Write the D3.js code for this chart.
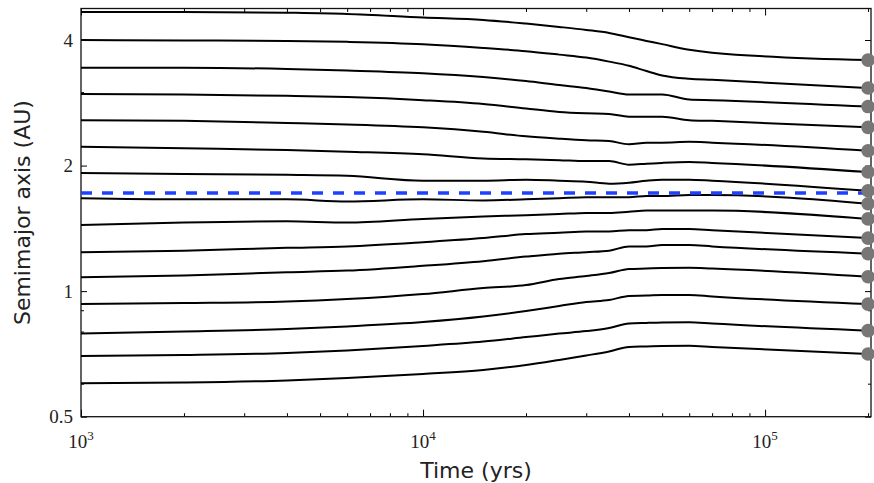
<!DOCTYPE html>
<html>
<head>
<meta charset="utf-8">
<script src="https://cdn.jsdelivr.net/npm/d3@7"></script>
<style>
  body { margin: 0; background: #fff; }
</style>
</head>
<body>
<svg id="chart" width="874" height="483"></svg>
<script>
// sample times (yrs), shared by every orbit
var times = [1000, 2000, 4000, 6000, 10000, 15000, 20000, 25000, 30000, 35000, 40000, 45000, 50000, 60000, 70000, 200000];

// semimajor axis (AU) of each body, outermost first
var a01 = [4.67, 4.67, 4.65, 4.62, 4.53, 4.47, 4.38, 4.30, 4.23, 4.16, 4.06, 3.98, 3.91, 3.79, 3.73, 3.58];
var a02 = [4.00, 3.99, 3.98, 3.96, 3.91, 3.83, 3.76, 3.69, 3.63, 3.55, 3.47, 3.37, 3.29, 3.23, 3.21, 3.07];
var a03 = [3.43, 3.43, 3.41, 3.38, 3.33, 3.26, 3.19, 3.12, 3.07, 3.01, 2.96, 2.96, 2.96, 2.88, 2.87, 2.77];
var a04 = [2.97, 2.96, 2.94, 2.92, 2.87, 2.81, 2.74, 2.69, 2.67, 2.66, 2.62, 2.62, 2.62, 2.57, 2.56, 2.47];
var a05 = [2.57, 2.56, 2.53, 2.51, 2.47, 2.41, 2.35, 2.32, 2.30, 2.29, 2.25, 2.27, 2.27, 2.28, 2.27, 2.17];
var a06 = [2.22, 2.20, 2.18, 2.16, 2.13, 2.08, 2.07, 2.06, 2.05, 2.05, 2.01, 2.02, 2.03, 2.04, 2.03, 1.93];
var a07 = [1.92, 1.91, 1.90, 1.89, 1.84, 1.84, 1.85, 1.84, 1.83, 1.81, 1.82, 1.84, 1.85, 1.85, 1.84, 1.74];
var a08 = [1.67, 1.66, 1.66, 1.64, 1.66, 1.65, 1.66, 1.67, 1.68, 1.68, 1.68, 1.69, 1.69, 1.70, 1.70, 1.62];
var a09 = [1.44, 1.46, 1.47, 1.46, 1.49, 1.51, 1.52, 1.53, 1.54, 1.54, 1.55, 1.56, 1.56, 1.56, 1.56, 1.49];
var a10 = [1.24, 1.25, 1.27, 1.28, 1.31, 1.34, 1.37, 1.38, 1.39, 1.39, 1.40, 1.40, 1.41, 1.41, 1.40, 1.34];
var a11 = [1.08, 1.09, 1.11, 1.12, 1.15, 1.18, 1.21, 1.23, 1.24, 1.25, 1.28, 1.28, 1.29, 1.29, 1.28, 1.23];
var a12 = [0.931, 0.936, 0.944, 0.957, 0.984, 1.017, 1.034, 1.069, 1.087, 1.105, 1.130, 1.133, 1.136, 1.138, 1.133, 1.083];
var a13 = [0.792, 0.800, 0.811, 0.823, 0.843, 0.869, 0.896, 0.921, 0.942, 0.952, 0.974, 0.976, 0.979, 0.979, 0.971, 0.931];
var a14 = [0.699, 0.703, 0.711, 0.721, 0.739, 0.757, 0.776, 0.791, 0.802, 0.816, 0.836, 0.839, 0.841, 0.842, 0.836, 0.804];
var a15 = [0.601, 0.604, 0.611, 0.619, 0.633, 0.647, 0.665, 0.684, 0.701, 0.717, 0.735, 0.737, 0.739, 0.740, 0.735, 0.707];

// dashed reference line (AU)
var refLine = 1.72;

// ticks
var xMajor = [1e3, 1e4, 1e5];
var xExponents = ["3", "4", "5"];
var xMinor = [2e3, 3e3, 4e3, 5e3, 6e3, 7e3, 8e3, 9e3, 2e4, 3e4, 4e4, 5e4, 6e4, 7e4, 8e4, 9e4, 2e5];
var yMajor = [0.5, 1, 2, 4];
var yLabels = ["0.5", "1", "2", "4"];
var yMinor = [0.6, 0.7, 0.8, 0.9, 3];

var orbits = [a01, a02, a03, a04, a05, a06, a07, a08, a09, a10, a11, a12, a13, a14, a15];

var svg = d3.select("#chart");
var plotLeft = 81, plotRight = 871, plotTop = 8.5, plotBottom = 416.7;

var x = d3.scaleLog().domain([1e3, 2.04e5]).range([plotLeft, plotRight]);
var y = d3.scaleLog().domain([0.5, 4.76]).range([plotBottom, plotTop]);

function noDomain(g) { g.select(".domain").remove(); }

// ticks point inward on all four sides
svg.append("g").attr("transform", "translate(0," + plotBottom + ")")
	.call(d3.axisBottom(x).tickValues(xMajor).tickSize(-7).tickFormat("")).call(noDomain);
svg.append("g").attr("transform", "translate(0," + plotBottom + ")")
	.call(d3.axisBottom(x).tickValues(xMinor).tickSize(-3.5).tickFormat("")).call(noDomain);
svg.append("g").attr("transform", "translate(0," + plotTop + ")")
	.call(d3.axisTop(x).tickValues(xMajor).tickSize(-7).tickFormat("")).call(noDomain);
svg.append("g").attr("transform", "translate(0," + plotTop + ")")
	.call(d3.axisTop(x).tickValues(xMinor).tickSize(-3.5).tickFormat("")).call(noDomain);
svg.append("g").attr("transform", "translate(" + plotLeft + ",0)")
	.call(d3.axisLeft(y).tickValues(yMajor).tickSize(-6).tickFormat("")).call(noDomain);
svg.append("g").attr("transform", "translate(" + plotLeft + ",0)")
	.call(d3.axisLeft(y).tickValues(yMinor).tickSize(-3).tickFormat("")).call(noDomain);
svg.append("g").attr("transform", "translate(" + plotRight + ",0)")
	.call(d3.axisRight(y).tickValues(yMajor).tickSize(-6).tickFormat("")).call(noDomain);
svg.append("g").attr("transform", "translate(" + plotRight + ",0)")
	.call(d3.axisRight(y).tickValues(yMinor).tickSize(-3).tickFormat("")).call(noDomain);

svg.selectAll(".tick line").attr("stroke", "#000").attr("stroke-width", 1);

// frame
svg.append("rect")
	.attr("x", plotLeft).attr("y", plotTop)
	.attr("width", plotRight - plotLeft).attr("height", plotBottom - plotTop)
	.attr("fill", "none").attr("stroke", "#111").attr("stroke-width", 1.3);

// orbit tracks
var line = d3.line()
	.x(function (d, i) { return x(times[i]); })
	.y(function (d) { return y(d); })
	.curve(d3.curveMonotoneX);

svg.append("g").selectAll("path")
	.data(orbits)
	.enter().append("path")
	.attr("d", line)
	.attr("fill", "none")
	.attr("stroke", "#000")
	.attr("stroke-width", 2)
	.attr("stroke-linejoin", "round");

// reference line
svg.append("line")
	.attr("x1", x(times[0])).attr("x2", x(times[times.length - 1]))
	.attr("y1", y(refLine)).attr("y2", y(refLine))
	.attr("stroke", "#1e40ff")
	.attr("stroke-width", 3.5)
	.attr("stroke-dasharray", "11,10");

// final positions
svg.append("g").selectAll("circle")
	.data(orbits)
	.enter().append("circle")
	.attr("cx", function (d) { return x(times[d.length - 1]); })
	.attr("cy", function (d) { return y(d[d.length - 1]); })
	.attr("r", 6.8)
	.attr("fill", "#777");

// tick labels
var xl = svg.append("g").selectAll("text")
	.data(xMajor)
	.enter().append("text")
	.attr("x", function (d) { return x(d); })
	.attr("y", 448)
	.attr("text-anchor", "middle")
	.attr("font-family", "Liberation Serif")
	.attr("font-size", 19)
	.attr("fill", "#222");
xl.append("tspan").text("10");
xl.append("tspan")
	.attr("dy", -8)
	.attr("font-size", 13)
	.text(function (d, i) { return xExponents[i]; });

svg.append("g").selectAll("text")
	.data(yMajor)
	.enter().append("text")
	.attr("x", plotLeft - 8)
	.attr("y", function (d) { return y(d); })
	.attr("dy", "0.35em")
	.attr("text-anchor", "end")
	.attr("font-family", "Liberation Serif")
	.attr("font-size", 19)
	.attr("fill", "#222")
	.text(function (d, i) { return yLabels[i]; });

// axis titles
svg.append("text")
	.attr("x", (plotLeft + plotRight) / 2)
	.attr("y", 478)
	.attr("text-anchor", "middle")
	.attr("font-family", "DejaVu Sans")
	.attr("font-size", 22)
	.attr("fill", "#222")
	.text("Time (yrs)");

svg.append("text")
	.attr("transform", "translate(30," + ((plotTop + plotBottom) / 2) + ") rotate(-90)")
	.attr("text-anchor", "middle")
	.attr("font-family", "DejaVu Sans")
	.attr("font-size", 22)
	.attr("fill", "#222")
	.text("Semimajor axis (AU)");
</script>
</body>
</html>
